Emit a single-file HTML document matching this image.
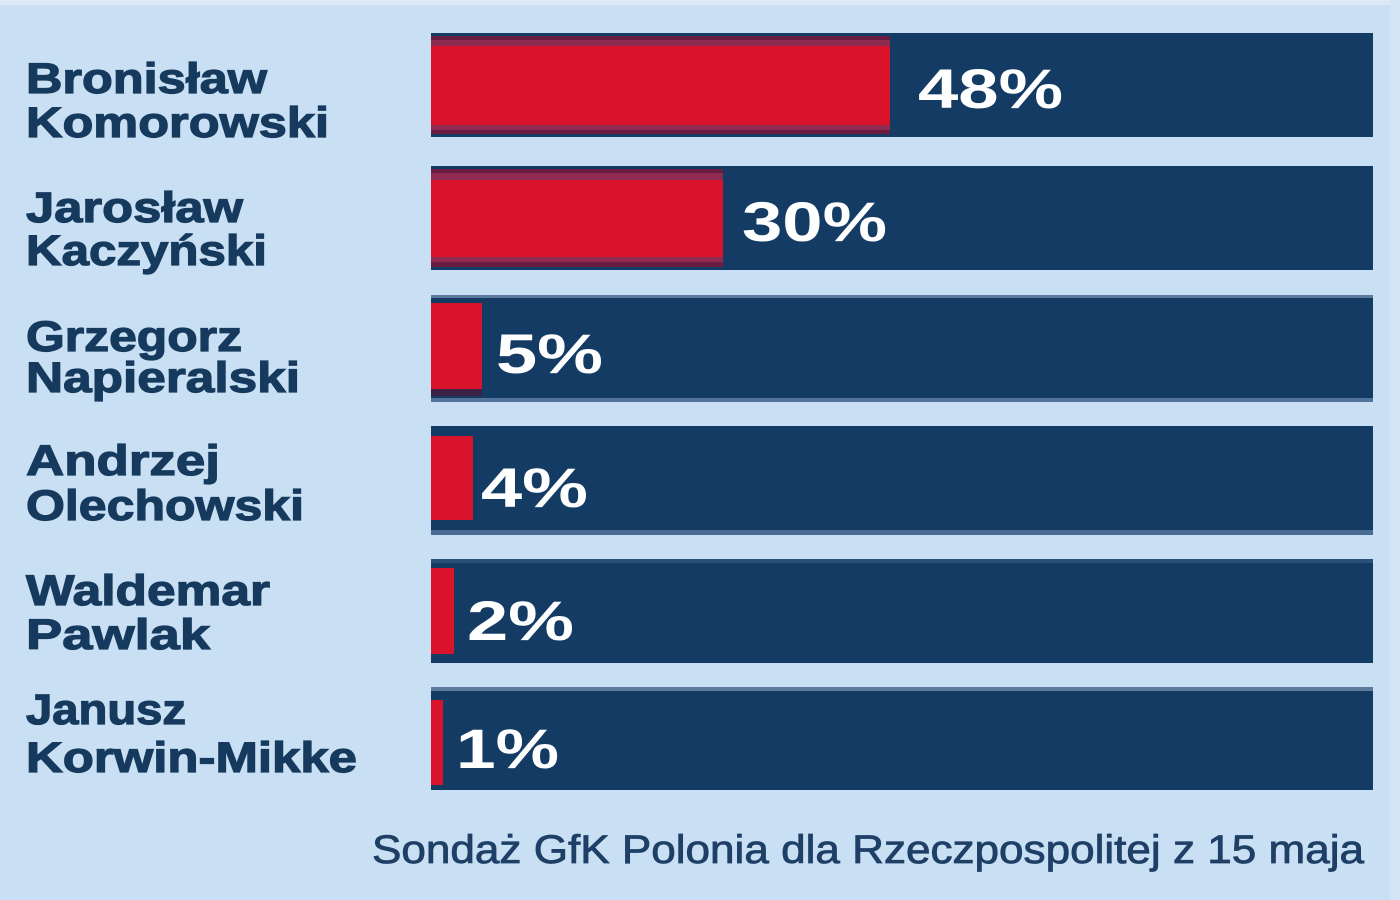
<!DOCTYPE html>
<html>
<head>
<meta charset="utf-8">
<style>
html,body{margin:0;padding:0;background:#c9dff3;}
svg{display:block;}
</style>
</head>
<body>
<svg width="1400" height="900" viewBox="0 0 1400 900" xmlns="http://www.w3.org/2000/svg">
  <rect x="0" y="0" width="1400" height="900" fill="#c9dff3"/>
  <rect x="0" y="0" width="1400" height="5" fill="#dde9f5"/>
  <rect x="1390" y="0" width="10" height="900" fill="#d3e5f5"/>

  <g font-family="'Liberation Sans', sans-serif">
  <!-- Bar 1 -->
  <rect x="431" y="33" width="942" height="104" fill="#143b64"/>
  <rect x="431" y="36" width="459" height="98" fill="#6a1d40"/>
  <rect x="431" y="40" width="459" height="6" fill="#8d2c50"/>
  <rect x="431" y="125" width="459" height="5" fill="#8d2c50"/>
  <rect x="431" y="46" width="459" height="79" fill="#d8132b"/>
  <text x="918" y="108" font-size="56" font-weight="bold" fill="#ffffff" textLength="145" lengthAdjust="spacingAndGlyphs">48%</text>

  <!-- Bar 2 -->
  <rect x="431" y="166" width="942" height="104" fill="#143b64"/>
  <rect x="431" y="169" width="292" height="98" fill="#6a1d40"/>
  <rect x="431" y="173" width="292" height="7" fill="#8d2c50"/>
  <rect x="431" y="257" width="292" height="5" fill="#8d2c50"/>
  <rect x="431" y="180" width="292" height="77" fill="#d8132b"/>
  <text x="742" y="241" font-size="56" font-weight="bold" fill="#ffffff" textLength="145" lengthAdjust="spacingAndGlyphs">30%</text>

  <!-- Bar 3 -->
  <rect x="431" y="295" width="942" height="107" fill="#143b64"/>
  <rect x="431" y="295" width="942" height="3" fill="#5c7b9c"/>
  <rect x="431" y="398" width="942" height="4" fill="#52739a"/>
  <rect x="431" y="389" width="51" height="7" fill="#3b2146"/>
  <rect x="431" y="303" width="51" height="86" fill="#d8132b"/>
  <text x="496" y="373" font-size="56" font-weight="bold" fill="#ffffff" textLength="107" lengthAdjust="spacingAndGlyphs">5%</text>

  <!-- Bar 4 -->
  <rect x="431" y="426" width="942" height="109" fill="#143b64"/>
  <rect x="431" y="530" width="942" height="5" fill="#4b6c92"/>
  <rect x="431" y="436" width="42" height="84" fill="#d8132b"/>
  <text x="481" y="507" font-size="56" font-weight="bold" fill="#ffffff" textLength="107" lengthAdjust="spacingAndGlyphs">4%</text>

  <!-- Bar 5 -->
  <rect x="431" y="559" width="942" height="104" fill="#143b64"/>
  <rect x="431" y="559" width="942" height="4" fill="#2c5178"/>
  <rect x="431" y="568" width="23" height="86" fill="#d8132b"/>
  <text x="467" y="640" font-size="56" font-weight="bold" fill="#ffffff" textLength="107" lengthAdjust="spacingAndGlyphs">2%</text>

  <!-- Bar 6 -->
  <rect x="431" y="687" width="942" height="103" fill="#143b64"/>
  <rect x="431" y="687" width="942" height="4" fill="#5c7b9c"/>
  <rect x="431" y="700" width="12" height="85" fill="#d8132b"/>
  <text x="456" y="768" font-size="56" font-weight="bold" fill="#ffffff" textLength="103" lengthAdjust="spacingAndGlyphs">1%</text>

  <!-- Labels -->
  <g font-size="43" font-weight="bold" fill="#163a5e" stroke="#163a5e" stroke-width="1.2">
    <text x="26" y="93" textLength="241" lengthAdjust="spacingAndGlyphs">Bronisław</text>
    <text x="26" y="137" textLength="303" lengthAdjust="spacingAndGlyphs">Komorowski</text>
    <text x="26" y="222" textLength="217" lengthAdjust="spacingAndGlyphs">Jarosław</text>
    <text x="26" y="265" textLength="241" lengthAdjust="spacingAndGlyphs">Kaczyński</text>
    <text x="26" y="351" textLength="216" lengthAdjust="spacingAndGlyphs">Grzegorz</text>
    <text x="26" y="392" textLength="274" lengthAdjust="spacingAndGlyphs">Napieralski</text>
    <text x="26" y="475" textLength="194" lengthAdjust="spacingAndGlyphs">Andrzej</text>
    <text x="26" y="520" textLength="278" lengthAdjust="spacingAndGlyphs">Olechowski</text>
    <text x="26" y="605" textLength="244" lengthAdjust="spacingAndGlyphs">Waldemar</text>
    <text x="26" y="649" textLength="184" lengthAdjust="spacingAndGlyphs">Pawlak</text>
    <text x="26" y="724" textLength="160" lengthAdjust="spacingAndGlyphs">Janusz</text>
    <text x="26" y="772" textLength="331" lengthAdjust="spacingAndGlyphs">Korwin-Mikke</text>
  </g>

  <text x="372" y="863" font-size="40" fill="#1e3f66" stroke="#1e3f66" stroke-width="0.8" textLength="992" lengthAdjust="spacingAndGlyphs">Sondaż GfK Polonia dla Rzeczpospolitej z 15 maja</text>
  </g>
</svg>
</body>
</html>
